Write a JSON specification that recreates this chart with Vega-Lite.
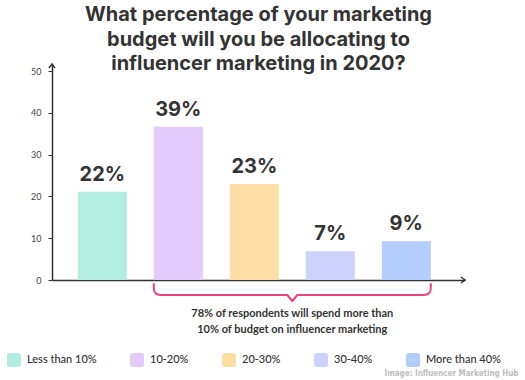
{
  "$schema": "https://vega.github.io/schema/vega-lite/v6.json",
  "autosize": {"type": "none"},
  "width": 413,
  "height": 216,
  "padding": {"left": 52, "top": 64, "right": 60, "bottom": 100},
  "title": {
    "text": ["What percentage of your marketing", "budget will you be allocating to", "influencer marketing in 2020?"],
    "anchor": "middle",
    "frame": "group",
    "offset": -13
  },
  "data": {
    "values": [
      {"category": "Less than 10%", "value": 21.1, "label": "22%"},
      {"category": "10-20%", "value": 36.7, "label": "39%"},
      {"category": "20-30%", "value": 23.0, "label": "23%"},
      {"category": "30-40%", "value": 6.9, "label": "7%"},
      {"category": "More than 40%", "value": 9.3, "label": "9%"}
    ]
  },
  "encoding": {
    "x": {
      "field": "category",
      "type": "nominal",
      "scale": {
        "domain": ["Less than 10%", "10-20%", "20-30%", "30-40%", "More than 40%"],
        "paddingInner": 0.355,
        "paddingOuter": 0.395,
        "align": 0.43
      },
      "axis": {
        "title": "Image: Influencer Marketing Hub",
        "labels": false,
        "ticks": false,
        "domain": true,
        "domainColor": "#333333",
        "domainWidth": 1.5,
        "grid": false,
        "titleX": 466,
        "titleY": 93,
        "titleAlign": "right",
        "titleAnchor": null,
        "titleBaseline": "middle",
        "titleColor": "#bdbdbd",
        "titleFont": "DejaVu Sans Condensed",
        "titleFontSize": 8,
        "titleFontWeight": "bold"
      }
    }
  },
  "layer": [
    {
      "mark": {"type": "bar"},
      "encoding": {
        "y": {
          "field": "value",
          "type": "quantitative",
          "scale": {"domain": [0, 51.7], "nice": false, "zero": true},
          "axis": {
            "title": null,
            "values": [0, 10, 20, 30, 40, 50],
            "grid": false,
            "domainColor": "#333333",
            "domainWidth": 1.5,
            "tickColor": "#333333",
            "tickSize": 4,
            "tickWidth": 1,
            "labelPadding": 7,
            "labelFont": "Lato",
            "labelFontSize": 9,
            "labelColor": "#444444"
          }
        },
        "color": {
          "field": "category",
          "type": "nominal",
          "sort": null,
          "scale": {
            "domain": ["Less than 10%", "10-20%", "20-30%", "30-40%", "More than 40%"],
            "range": ["#b2eedf", "#e3ccfc", "#fddea4", "#ccd1fd", "#b3cefc"]
          },
          "legend": {
            "title": null,
            "orient": "none",
            "direction": "horizontal",
            "legendX": -45,
            "legendY": 289,
            "padding": 0,
            "symbolType": "M-1,-0.6Q-1,-1,-0.6,-1L0.6,-1Q1,-1,1,-0.6L1,0.6Q1,1,0.6,1L-0.6,1Q-1,1,-1,0.6Z",
            "symbolSize": 196,
            "symbolStrokeWidth": 0,
            "symbolOpacity": 1,
            "labelOffset": 6,
            "columnPadding": 33,
            "labelFont": "Lato",
            "labelFontSize": 11,
            "labelFontWeight": 500,
            "labelColor": "#333333"
          }
        }
      }
    },
    {
      "mark": {"type": "text", "baseline": "alphabetic", "dy": -11, "font": "Inter", "fontSize": 20, "fontWeight": "bold", "color": "#333333"},
      "encoding": {
        "y": {"field": "value", "type": "quantitative"},
        "text": {"field": "label"}
      }
    },
    {
      "data": {"values": [{"category": "20-30%"}]},
      "mark": {
        "type": "point",
        "shape": "M-1,-0.0794L-1,-0.0505Q-1,0,-0.9495,0L-0.0361,0L0,0.0433L0.0361,0L0.9495,0Q1,0,1,-0.0505L1,-0.0794",
        "size": 76729,
        "filled": false,
        "stroke": "#e8457a",
        "strokeWidth": 2,
        "strokeCap": "round",
        "strokeJoin": "round",
        "opacity": 1
      },
      "encoding": {
        "x": {"field": "category", "type": "nominal", "bandPosition": 1.2755},
        "y": {"datum": -3.59, "type": "quantitative"}
      }
    },
    {
      "data": {"values": [{"category": "20-30%", "note": ["78% of respondents will spend more than", "10% of budget on influencer marketing"]}]},
      "mark": {"type": "text", "baseline": "middle", "align": "center", "font": "Lato", "fontSize": 11, "fontWeight": "bold", "color": "#333333", "lineHeight": 16.5},
      "encoding": {
        "x": {"field": "category", "type": "nominal", "bandPosition": 1.2755},
        "y": {"datum": -8.1, "type": "quantitative"},
        "text": {"field": "note"}
      }
    },
    {
      "data": {"values": [{}]},
      "mark": {"type": "point", "shape": "M-0.75,1L0,0L0.75,1", "size": 64, "filled": false, "stroke": "#333333", "strokeWidth": 1.5, "opacity": 1},
      "encoding": {
        "x": {"value": 0},
        "y": {"datum": 51.7, "type": "quantitative"}
      }
    },
    {
      "data": {"values": [{}]},
      "mark": {"type": "point", "shape": "M-1,-0.75L0,0L-1,0.75", "size": 64, "filled": false, "stroke": "#333333", "strokeWidth": 1.5, "opacity": 1},
      "encoding": {
        "x": {"value": "width"},
        "y": {"datum": 0, "type": "quantitative"}
      }
    }
  ],
  "config": {
    "view": {"stroke": null},
    "title": {"font": "Inter", "fontSize": 20, "fontWeight": "bold", "color": "#333333", "lineHeight": 24.5}
  }
}
